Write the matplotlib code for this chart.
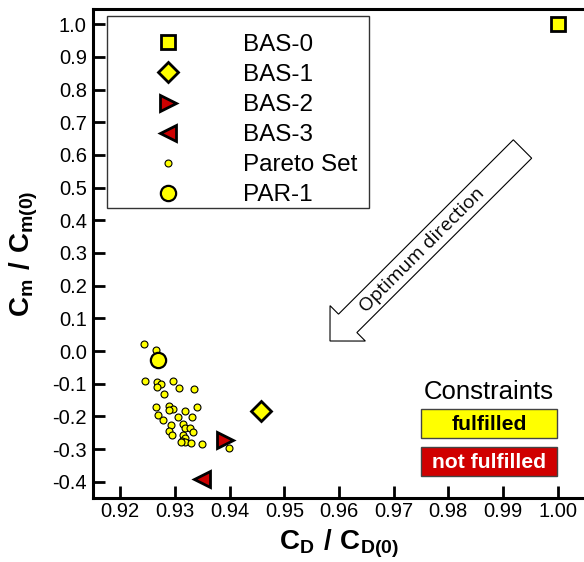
import numpy as np
import matplotlib
matplotlib.use("Agg")
import matplotlib.pyplot as plt
from matplotlib.patches import FancyArrow, Rectangle

plt.rcParams['font.family'] = ['Liberation Sans', 'DejaVu Sans']
plt.rcParams['mathtext.fontset'] = 'custom'
plt.rcParams['mathtext.rm'] = 'Liberation Sans'
plt.rcParams['mathtext.bf'] = 'Liberation Sans:bold'

# data
pareto_cd = [0.9243, 0.9266, 0.9246, 0.9268, 0.9274, 0.9267, 0.9297, 0.9307,
             0.9335, 0.9280, 0.9266, 0.9289, 0.9297, 0.9290, 0.9318, 0.9341,
             0.9269, 0.9305, 0.9332, 0.9279, 0.9315, 0.9292, 0.9318, 0.9328,
             0.9289, 0.9333, 0.9294, 0.9314, 0.9319, 0.9312, 0.9319, 0.9311,
             0.9330, 0.9349, 0.9399]
pareto_cm = [0.020, 0.003, -0.092, -0.094, -0.100, -0.111, -0.092, -0.113,
             -0.116, -0.131, -0.171, -0.169, -0.176, -0.181, -0.183, -0.170,
             -0.197, -0.203, -0.201, -0.212, -0.224, -0.228, -0.235, -0.235,
             -0.245, -0.248, -0.258, -0.258, -0.267, -0.274, -0.278, -0.277,
             -0.281, -0.285, -0.297]

bas0 = (1.000, 1.000)
bas1 = (0.9457, -0.183)
bas2 = (0.9391, -0.272)
bas3 = (0.9350, -0.391)
par1 = (0.9269, -0.028)

x_ticks = [0.92, 0.93, 0.94, 0.95, 0.96, 0.97, 0.98, 0.99, 1.00]
y_ticks = [-0.4, -0.3, -0.2, -0.1, 0.0, 0.1, 0.2, 0.3, 0.4, 0.5, 0.6, 0.7, 0.8, 0.9, 1.0]

yellow = '#FFFF00'
red = '#CC0000'

fig = plt.figure(figsize=(5.84, 5.62), dpi=100)
ax = fig.add_axes([93 / 584, (562 - 497.7) / 562, 491 / 584, 488.7 / 562])

ax.plot(pareto_cd, pareto_cm, 'o', ms=5, mfc=yellow, mec='black', mew=0.8,
        label='Pareto Set', zorder=3)
ax.plot(*par1, 'o', ms=11, mfc=yellow, mec='black', mew=1.6, label='PAR-1', zorder=4)
ax.plot(*bas0, 's', ms=10, mfc=yellow, mec='black', mew=2, label='BAS-0', zorder=5)
ax.plot(*bas1, 'D', ms=10, mfc=yellow, mec='black', mew=2, label='BAS-1', zorder=5)
ax.plot(*bas2, '>', ms=11, mfc=red, mec='black', mew=2, label='BAS-2', zorder=5)
ax.plot(*bas3, '<', ms=11, mfc=red, mec='black', mew=2, label='BAS-3', zorder=5)

ax.set_xlim(0.91501, 1.00481)
ax.set_ylim(-0.449, 1.0468)
ax.set_xticks(x_ticks)
ax.set_xticklabels([f'{v:.2f}' for v in x_ticks])
ax.set_yticks(y_ticks)
ax.set_yticklabels([f'{v:.1f}' for v in y_ticks])
ax.tick_params(direction='in', length=8.5, width=2, labelsize=14.5)
ax.tick_params(axis='x', pad=3)
ax.tick_params(axis='y', pad=4.5)
for s in ['left', 'bottom', 'top']:
    ax.spines[s].set_linewidth(2.2)
ax.spines['right'].set_visible(False)

ax.set_xlabel(r'$\mathbf{C_D\ /\ C_{D(0)}}$', fontsize=20, labelpad=5)
ax.set_ylabel(r'$\mathbf{C_m\ /\ C_{m(0)}}$', fontsize=20, labelpad=9)

# legend in the reference order, frame drawn separately
h, l = ax.get_legend_handles_labels()
order = ['BAS-0', 'BAS-1', 'BAS-2', 'BAS-3', 'Pareto Set', 'PAR-1']
hh = [h[l.index(o)] for o in order]
leg = ax.legend(hh, order, loc='upper left', bbox_to_anchor=(0.0468, 0.949),
                borderaxespad=0, fontsize=17.5, handlelength=4.28, handletextpad=0.95,
                labelspacing=0.33, borderpad=0, frameon=False, numpoints=1)
fig.add_artist(Rectangle((1.07, 3.54), 2.62, 1.92, transform=fig.dpi_scale_trans,
                         fc='none', ec='#333333', lw=1.0))

# "Optimum direction" arrow, in inches on the figure
arrow = FancyArrow(5.225, 4.13, -1.925, -1.92, width=0.26, head_width=0.50,
                   head_length=0.25, length_includes_head=True,
                   transform=fig.dpi_scale_trans, fc='white', ec='black', lw=0.8)
fig.add_artist(arrow)
fig.text(4.22 / 5.84, (562 - 250) / 562, 'Optimum direction', rotation=45,
         rotation_mode='anchor', ha='center', va='center', fontsize=13.7,
         family='Open Sans')

# constraints key
fig.text(489 / 584, (562 - 392) / 562, 'Constraints', ha='center', va='center', fontsize=18.5)
fig.add_artist(Rectangle((4.21, (562 - 438) / 100), 1.36, 0.29, transform=fig.dpi_scale_trans,
                         fc=yellow, ec='#444444', lw=1))
fig.text(489 / 584, (562 - 424) / 562, 'fulfilled', ha='center', va='center',
         fontsize=15.2, fontweight='bold', color='black')
fig.add_artist(Rectangle((4.21, (562 - 476) / 100), 1.36, 0.29, transform=fig.dpi_scale_trans,
                         fc='#D00000', ec='#444444', lw=1))
fig.text(489 / 584, (562 - 462) / 562, 'not fulfilled', ha='center', va='center',
         fontsize=15.2, fontweight='bold', color='white')

fig.savefig('out.png', dpi=100)
